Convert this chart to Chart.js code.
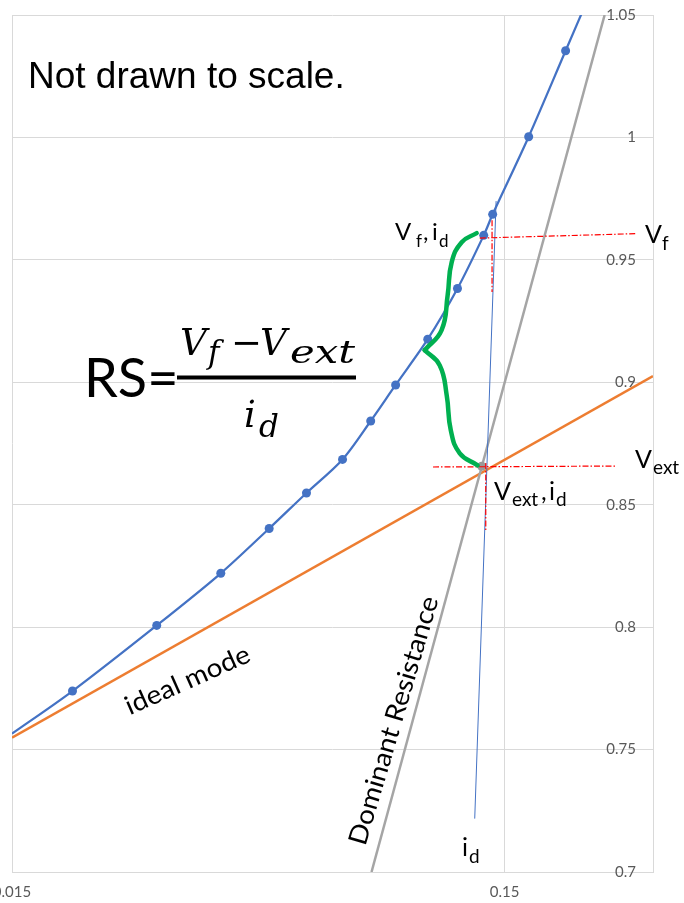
<!DOCTYPE html>
<html>
<head>
<meta charset="utf-8">
<script src="https://cdn.jsdelivr.net/npm/chart.js@4/dist/chart.umd.min.js"></script>
<style>
  html, body { margin: 0; padding: 0; background: #ffffff; }
  #wrap { position: relative; width: 684px; height: 903px; }
  #c { position: absolute; left: 0; top: 0; }
  #ov { position: absolute; left: 0; top: 0; pointer-events: none; }
  .lab { font-family: Lato, "Open Sans", sans-serif; fill: #000; }
  .math { font-family: "DejaVu Serif", serif; font-style: italic; fill: #000; }
</style>
</head>
<body>
<div id="wrap">
  <canvas id="c" width="684" height="903"></canvas>
  <svg id="ov" width="684" height="903" xmlns="http://www.w3.org/2000/svg">
    <text x="28" y="88" style="font-family:'Liberation Sans',Arial,sans-serif;font-size:37px" fill="#000">Not drawn to scale.</text>

    <text class="lab" x="84" y="397" style="font-size:54px">RS=</text>
    <text class="math" x="180" y="355" style="font-size:37px">V</text>
    <text class="math" x="208" y="363" style="font-size:31px">f</text>
    <text x="231" y="355" style="font-family:'DejaVu Serif',serif;font-size:37px" fill="#000">−</text>
    <text class="math" x="260" y="355" style="font-size:37px">V</text>
    <text class="math" x="290" y="363" style="font-size:31px" textLength="65" lengthAdjust="spacingAndGlyphs">ext</text>
    <rect x="177" y="375.5" width="179" height="4" fill="#000"/>
    <text class="math" x="244" y="427" style="font-size:37px">i</text>
    <text class="math" x="259" y="437" style="font-size:31px">d</text>

    <text class="lab" x="395" y="240" style="font-size:24px">V</text>
    <text class="lab" x="416" y="247" style="font-size:17px">f</text>
    <text class="lab" x="423" y="240" style="font-size:24px">,</text>
    <text class="lab" x="432" y="240" style="font-size:24px">i</text>
    <text class="lab" x="439" y="247" style="font-size:17px">d</text>

    <text class="lab" x="645" y="243" style="font-size:25px">V</text>
    <text class="lab" x="662" y="250" style="font-size:19px">f</text>

    <text class="lab" x="635" y="468" style="font-size:25px">V</text>
    <text class="lab" x="653" y="474" style="font-size:19px">ext</text>

    <text class="lab" x="494" y="500" style="font-size:25px">V</text>
    <text class="lab" x="512" y="506" style="font-size:19px">ext</text>
    <text class="lab" x="541" y="500" style="font-size:25px">,</text>
    <text class="lab" x="549" y="500" style="font-size:25px">i</text>
    <text class="lab" x="556" y="506" style="font-size:19px">d</text>

    <text class="lab" x="462" y="856" style="font-size:25px">i</text>
    <text class="lab" x="469" y="863" style="font-size:19px">d</text>

    <g transform="translate(191,688) rotate(-24)">
      <text class="lab" x="0" y="0" text-anchor="middle" style="font-size:26px" textLength="134" lengthAdjust="spacingAndGlyphs">ideal mode</text>
    </g>
    <g transform="translate(402,723) rotate(-73.5)">
      <text class="lab" x="0" y="0" text-anchor="middle" style="font-size:26px" textLength="258" lengthAdjust="spacingAndGlyphs">Dominant Resistance</text>
    </g>
  </svg>
</div>
<script>
// ---- Data (x = diode current, log axis; y = voltage) ----
const curveI = [0.015, 0.0199, 0.0295, 0.0398, 0.0499, 0.0594, 0.0703, 0.0802, 0.0901, 0.1047, 0.1203, 0.1360, 0.1418, 0.1678, 0.1994, 0.2253];
const curveV = [0.7565, 0.7739, 0.8007, 0.8220, 0.8403, 0.8548, 0.8685, 0.8842, 0.8989, 0.9176, 0.9383, 0.9600, 0.9686, 1.0003, 1.0354, 1.0602];
const curveMarked = [0, 1, 1, 1, 1, 1, 1, 1, 1, 1, 1, 1, 1, 1, 1, 0];

const idealI = [0.015, 0.3];
const idealV = [0.7549, 0.9025];

const resistI = [0.0805, 0.2393];
const resistV = [0.7, 1.05];

const idLineI = [0.1304, 0.1441];
const idLineV = [0.7218, 0.974];

const vfHorizI = [0.1335, 0.2778];
const vfHorizV = [0.9589, 0.9607];
const vfVertI = [0.1414, 0.1414];
const vfVertV = [0.9662, 0.9369];

const vextHorizI = [0.1073, 0.2523];
const vextHorizV = [0.8654, 0.8658];
const vextVertI = [0.1373, 0.1373];
const vextVertV = [0.867, 0.8396];

const crossI = [0.1347];
const crossV = [0.8657];

const braceTopI = [0.1316, 0.1227, 0.1171, 0.1149, 0.1117, 0.1032];
const braceTopV = [0.9609, 0.9572, 0.9491, 0.9356, 0.9213, 0.9131];
const braceBotI = [0.1032, 0.1107, 0.1144, 0.1166, 0.1216, 0.1322];
const braceBotV = [0.9131, 0.9070, 0.8947, 0.8804, 0.8710, 0.8661];

const xGridValues = [0.015, 0.15, 0.3];
const xTickLabels = ['0.015', '0.15', ''];
const yGridValues = [0.7, 0.75, 0.8, 0.85, 0.9, 0.95, 1.0, 1.05];
const yTickLabels = ['0.7', '0.75', '0.8', '0.85', '0.9', '0.95', '1', '1.05'];

const pts = (xs, ys) => xs.map((x, i) => ({ x: x, y: ys[i] }));

const redDash = [6, 2, 1.5, 2];
function lineSet(xs, ys, color, width, extra) {
  return Object.assign({
    data: pts(xs, ys), showLine: true, borderColor: color, backgroundColor: color,
    borderWidth: width, pointRadius: 0, pointHoverRadius: 0, tension: 0, clip: 0
  }, extra || {});
}

const datasets = [
  lineSet(braceTopI, braceTopV, '#00B050', 4.5, { tension: 0.45, borderCapStyle: 'round' }),
  lineSet(braceBotI, braceBotV, '#00B050', 4.5, { tension: 0.45, borderCapStyle: 'round' }),
  lineSet(vfHorizI, vfHorizV, '#FF0000', 1.2, { borderDash: redDash }),
  lineSet(vfVertI, vfVertV, '#FF0000', 1.2, { borderDash: redDash }),
  lineSet(vextHorizI, vextHorizV, '#FF0000', 1.2, { borderDash: redDash }),
  lineSet(vextVertI, vextVertV, '#FF0000', 1.2, { borderDash: redDash }),
  { data: pts(crossI, crossV), showLine: false, pointRadius: 4.5, backgroundColor: '#999999', borderColor: '#999999', borderWidth: 0 },
  lineSet(curveI, curveV, '#4472C4', 2.25, {
    tension: 0.3, pointRadius: curveMarked.map(m => m ? 4.5 : 0), pointBackgroundColor: '#4472C4', pointBorderWidth: 0
  }),
  lineSet(idLineI, idLineV, '#4472C4', 1),
  lineSet(resistI, resistV, '#A5A5A5', 2.5),
  lineSet(idealI, idealV, '#ED7D31', 2.5)
];

const tickFont = { family: 'Lato', size: 15 };
new Chart(document.getElementById('c'), {
  type: 'scatter',
  data: { datasets: datasets },
  options: {
    responsive: false,
    animation: false,
    devicePixelRatio: 1,
    events: [],
    layout: { padding: { left: 12, top: 15, right: 0, bottom: 0 } },
    plugins: { legend: { display: false }, tooltip: { enabled: false } },
    scales: {
      x: {
        type: 'logarithmic', min: 0.015, max: 0.3,
        afterBuildTicks: s => { s.ticks = xGridValues.map(v => ({ value: v })); },
        afterFit: s => { s.paddingLeft = 0; s.paddingRight = 0; s.height = 31; },
        ticks: { autoSkip: false, maxRotation: 0, padding: 11, color: '#595959', font: tickFont,
                 callback: (v, i) => xTickLabels[i] },
        grid: { color: '#D9D9D9', lineWidth: 1, drawTicks: false },
        border: { color: '#D9D9D9' }
      },
      y: {
        type: 'linear', position: 'right', min: 0.7, max: 1.05,
        afterBuildTicks: s => { s.ticks = yGridValues.map(v => ({ value: v })); },
        afterFit: s => { s.paddingTop = 0; s.paddingBottom = 0; s.width = 31; },
        ticks: { mirror: true, padding: -17, color: '#595959', font: tickFont,
                 callback: (v, i) => yTickLabels[i] },
        grid: { color: '#D9D9D9', lineWidth: 1, drawTicks: false },
        border: { color: '#D9D9D9' }
      }
    }
  }
});
</script>
</body>
</html>
